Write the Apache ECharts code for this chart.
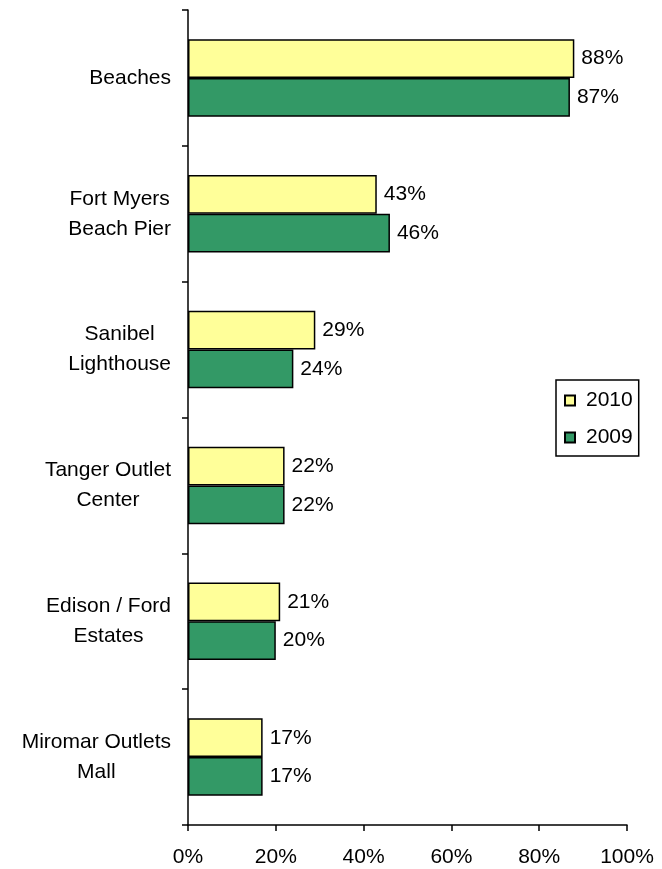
<!DOCTYPE html>
<html>
<head>
<meta charset="utf-8">
<script src="https://cdn.jsdelivr.net/npm/echarts@6/dist/echarts.min.js"></script>
<style>
html,body{margin:0;padding:0;background:#fff;}
#chart{width:662px;height:869px;}
</style>
</head>
<body>
<div id="chart"></div>
<script>
const categories = ['Beaches', 'Fort Myers\nBeach Pier', 'Sanibel\nLighthouse', 'Tanger Outlet\nCenter', 'Edison / Ford\nEstates', 'Miromar Outlets\nMall'];
const seriesNames = ['2010', '2009'];
const values2010 = [88, 43, 29, 22, 21, 17];
const values2009 = [87, 46, 24, 22, 20, 17];
const xTicks = [0, 20, 40, 60, 80, 100];

const FONT = '"Liberation Sans", Arial, sans-serif';
const chart = echarts.init(document.getElementById('chart'));
const labelOpt = {
  show: true, position: 'right', distance: 7,
  formatter: p => p.value + '%',
  color: '#000', fontFamily: FONT, fontSize: 21
};
chart.setOption({
  animation: false,
  backgroundColor: '#fff',
  grid: { left: 188, right: 35, top: 10, bottom: 44, containLabel: false },
  legend: {
    orient: 'vertical', left: 556, top: 380,
    data: seriesNames,
    padding: [10, 6, 8, 8],
    borderColor: '#000', borderWidth: 1.5,
    itemWidth: 10, itemHeight: 10, itemGap: 16,
    icon: 'rect',
    textStyle: { color: '#000', fontFamily: FONT, fontSize: 21, padding: [0, 0, 0, 6] }
  },
  xAxis: {
    type: 'value', min: xTicks[0], max: xTicks[xTicks.length - 1], interval: 20,
    axisLine: { show: true, lineStyle: { color: '#000', width: 1.5 } },
    axisTick: { show: true, length: 6, lineStyle: { color: '#000', width: 1.5 } },
    splitLine: { show: false },
    axisLabel: { formatter: '{value}%', color: '#000', fontFamily: FONT, fontSize: 21, margin: 22 }
  },
  yAxis: {
    type: 'category', inverse: true, data: categories,
    axisLine: { show: true, lineStyle: { color: '#000', width: 1.5 } },
    axisTick: { show: true, length: 6, lineStyle: { color: '#000', width: 1.5 } },
    axisLabel: {
      margin: 17, color: '#000', fontFamily: FONT, fontSize: 21,
      formatter: v => v.split('\n').map(s => '{c|' + s + '}').join('\n'),
      rich: { c: { align: 'center', lineHeight: 30, fontSize: 21, fontFamily: FONT, color: '#000' } }
    }
  },
  series: [
    {
      name: seriesNames[0], type: 'bar', data: values2010,
      barGap: '0%', barCategoryGap: '43%',
      itemStyle: { color: '#FFFF99', borderColor: '#000', borderWidth: 1.5 },
      label: labelOpt
    },
    {
      name: seriesNames[1], type: 'bar', data: values2009,
      barGap: '0%', barCategoryGap: '43%',
      itemStyle: { color: '#339966', borderColor: '#000', borderWidth: 1.5 },
      label: labelOpt
    }
  ]
});
</script>
</body>
</html>
